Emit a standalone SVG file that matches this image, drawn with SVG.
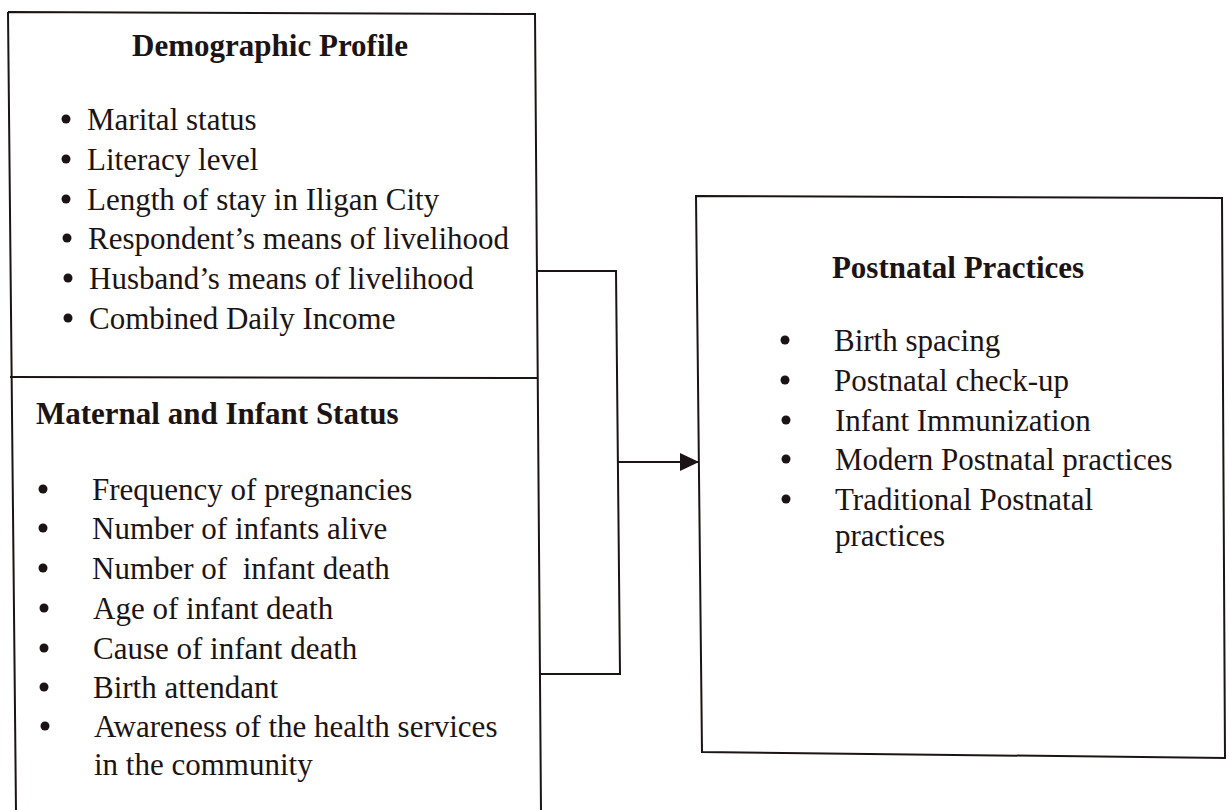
<svg xmlns="http://www.w3.org/2000/svg" width="1229" height="810" viewBox="0 0 1229 810">
<defs>
<style>
.box{fill:none;stroke:#1c1414;stroke-width:2}
.ln{fill:none;stroke:#1c1414;stroke-width:2}
.dot{fill:#1c1414}
text{font-family:"Liberation Serif","Times New Roman",serif;font-size:31px;fill:#1c1414}
.t{font-weight:bold}
</style>
<marker id="arr" markerUnits="userSpaceOnUse" markerWidth="20" markerHeight="20" viewBox="0 0 20 20" refX="19" refY="10" orient="auto">
<polygon points="0,1 19,10 0,19" fill="#1c1414"/>
</marker>
</defs>
<rect width="1229" height="810" fill="#ffffff"/>
<g id="left-box">
<path class="box" d="M8,12 L535,14 L541,812 M8,12 L16,812"/>
</g>
<g id="demographic-profile">
<line class="ln" x1="10" y1="377" x2="538" y2="378"/>
<text class="t" x="270" y="56" text-anchor="middle">Demographic Profile</text>
<circle class="dot" cx="66" cy="119" r="4.5"/><text x="87" y="130">Marital status</text>
<circle class="dot" cx="66" cy="159" r="4.5"/><text x="87" y="170">Literacy level</text>
<circle class="dot" cx="66" cy="199" r="4.5"/><text x="87" y="210">Length of stay in Iligan City</text>
<circle class="dot" cx="67" cy="238" r="4.5"/><text x="88" y="249">Respondent’s means of livelihood</text>
<circle class="dot" cx="68" cy="278" r="4.5"/><text x="89" y="289">Husband’s means of livelihood</text>
<circle class="dot" cx="68" cy="318" r="4.5"/><text x="89" y="329">Combined Daily Income</text>
</g>
<g id="maternal-infant-status">
<text class="t" x="36" y="424">Maternal and Infant Status</text>
<circle class="dot" cx="43" cy="489" r="4.5"/><text x="92" y="500">Frequency of pregnancies</text>
<circle class="dot" cx="43" cy="528" r="4.5"/><text x="92" y="539">Number of infants alive</text>
<circle class="dot" cx="43" cy="568" r="4.5"/><text x="92" y="579" xml:space="preserve">Number of  infant death</text>
<circle class="dot" cx="44" cy="608" r="4.5"/><text x="93" y="619">Age of infant death</text>
<circle class="dot" cx="44" cy="648" r="4.5"/><text x="93" y="659">Cause of infant death</text>
<circle class="dot" cx="44" cy="687" r="4.5"/><text x="93" y="698">Birth attendant</text>
<circle class="dot" cx="45" cy="726" r="4.5"/><text x="94" y="737">Awareness of the health services</text>
<text x="94" y="775">in the community</text>
</g>
<g id="postnatal-practices">
<path class="box" d="M696,196 L1222,198 L1225,758 L702,752 Z"/>
<text class="t" x="958" y="278" text-anchor="middle">Postnatal Practices</text>
<circle class="dot" cx="785" cy="340" r="4.5"/><text x="834" y="351">Birth spacing</text>
<circle class="dot" cx="785" cy="380" r="4.5"/><text x="834" y="391">Postnatal check-up</text>
<circle class="dot" cx="786" cy="420" r="4.5"/><text x="835" y="431">Infant Immunization</text>
<circle class="dot" cx="786" cy="459" r="4.5"/><text x="835" y="470">Modern Postnatal practices</text>
<circle class="dot" cx="786" cy="499" r="4.5"/><text x="835" y="510">Traditional Postnatal</text>
<text x="835" y="546">practices</text>
</g>
<g id="connectors">
<polyline class="ln" points="536,271 616,271 620,674 540,674"/>
<line class="ln" x1="618" y1="462" x2="699" y2="462" marker-end="url(#arr)"/>
</g>
</svg>
